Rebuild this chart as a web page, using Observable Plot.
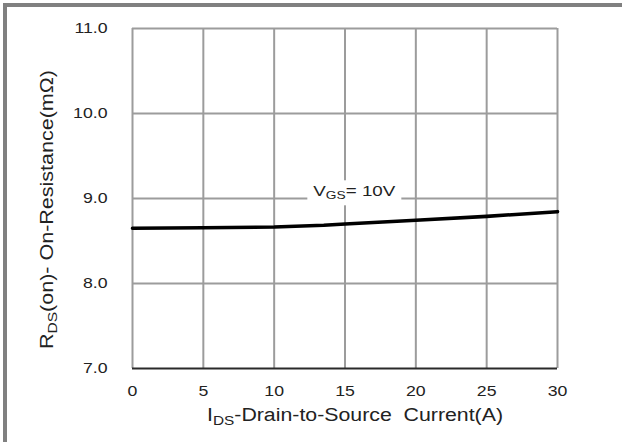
<!DOCTYPE html>
<html><head><meta charset="utf-8">
<script src="https://cdn.jsdelivr.net/npm/d3@7"></script>
<script src="https://cdn.jsdelivr.net/npm/@observablehq/plot@0.6"></script>
<style>
body{margin:0;background:#fff;}
#wrap{position:relative;width:622px;height:442px;overflow:hidden;background:#fff;}
#wrap svg{position:absolute;left:0;top:0;}
#frame{position:absolute;left:3px;top:3px;width:700px;height:600px;border-left:4px solid #808080;border-top:4px solid #808080;pointer-events:none;}
</style></head><body>
<div id="wrap"><div id="frame"></div></div>
<script>
// Data
const current = [0, 5, 10, 13.5, 15, 20, 25, 30];            // I_DS (A)
const resistance = [8.65, 8.655, 8.665, 8.685, 8.70, 8.745, 8.79, 8.845]; // R_DS(on) (mΩ)
const xTicks = [0, 5, 10, 15, 20, 25, 30];
const yTicks = [7, 8, 9, 10, 11];
const curveLabel = {x: 12.8, y: 9.02, main: "V", sub: "GS", rest: "= 10V"};

const rows = current.map((c, i) => ({c, r: resistance[i]}));

const chart = Plot.plot({
  width: 622,
  height: 442,
  marginLeft: 132,
  marginRight: 65,
  marginTop: 28,
  marginBottom: 74,
  style: {fontFamily: "'Liberation Sans', Arial, sans-serif", fontSize: "15px", color: "#222", background: "transparent"},
  x: {domain: [0, 30], label: null},
  y: {domain: [7, 11], label: null},
  marks: [
    Plot.ruleX(xTicks, {stroke: "#9c9c9c", strokeWidth: 2}),
    Plot.ruleY(yTicks.filter(d => d > 7), {stroke: "#9c9c9c", strokeWidth: 2}),
    Plot.ruleY([7], {stroke: "#2a2a2a", strokeWidth: 2}),
    Plot.axisX({ticks: xTicks, tickSize: 0, tickPadding: 17, tickFormat: d => String(d), label: null}),
    Plot.axisY({ticks: yTicks, tickSize: 0, tickPadding: 25, tickFormat: d => d.toFixed(1), label: null}),
    Plot.line(rows, {x: "c", y: "r", stroke: "#000", strokeWidth: 3.6, strokeLinejoin: "round"})
  ]
});

const wrap = document.getElementById("wrap");
wrap.prepend(chart);
const svg = d3.select(chart);
const sx = chart.scale("x"), sy = chart.scale("y");

// widen tick labels to match reference lettering
svg.selectAll("g[aria-label$='tick label'] text").each(function() {
  const t = this;
  const tr = t.getAttribute("transform") || "";
  const x0 = +(t.getAttribute("x") || 0);
  t.setAttribute("transform", `${tr} translate(${x0},0) scale(1.18,1) translate(${-x0},0)`);
});

const font = "'Liberation Sans', Arial, sans-serif";

// curve label with white background
const lg = svg.append("g");
const lt = lg.append("text")
  .attr("x", sx.apply(curveLabel.x))
  .attr("y", sy.apply(curveLabel.y))
  .attr("text-anchor", "start")
  .attr("font-family", font).attr("font-size", 15).attr("fill", "#222");
lt.append("tspan").text(curveLabel.main);
lt.append("tspan").attr("font-size", 11).attr("dy", 3).text(curveLabel.sub);
lt.append("tspan").attr("dy", -3).text(curveLabel.rest);
lt.attr("textLength", 82).attr("lengthAdjust", "spacingAndGlyphs");
const bb = lt.node().getBBox();
lg.insert("rect", "text")
  .attr("x", bb.x - 6).attr("y", bb.y - 2)
  .attr("width", bb.width + 12).attr("height", bb.height + 6)
  .attr("fill", "#fff");

// x axis label
const xl = svg.append("text")
  .attr("x", 207).attr("y", 421)
  .attr("text-anchor", "start")
  .attr("font-family", font).attr("font-size", 18).attr("fill", "#222");
xl.append("tspan").text("I");
xl.append("tspan").attr("font-size", 13).attr("dy", 4).text("DS");
xl.append("tspan").attr("dy", -4).text("-Drain-to-Source\u00a0\u00a0Current(A)");
xl.attr("textLength", 296).attr("lengthAdjust", "spacingAndGlyphs");

// y axis label
const yl = svg.append("text")
  .attr("transform", "translate(53,349) rotate(-90)")
  .attr("text-anchor", "start")
  .attr("font-family", font).attr("font-size", 18).attr("fill", "#222");
yl.append("tspan").text("R");
yl.append("tspan").attr("font-size", 13).attr("dy", 4).text("DS");
yl.append("tspan").attr("dy", -4).text("(on)- On-Resistance(m\u03A9)");
yl.attr("textLength", 279).attr("lengthAdjust", "spacingAndGlyphs");
</script>
</body></html>
